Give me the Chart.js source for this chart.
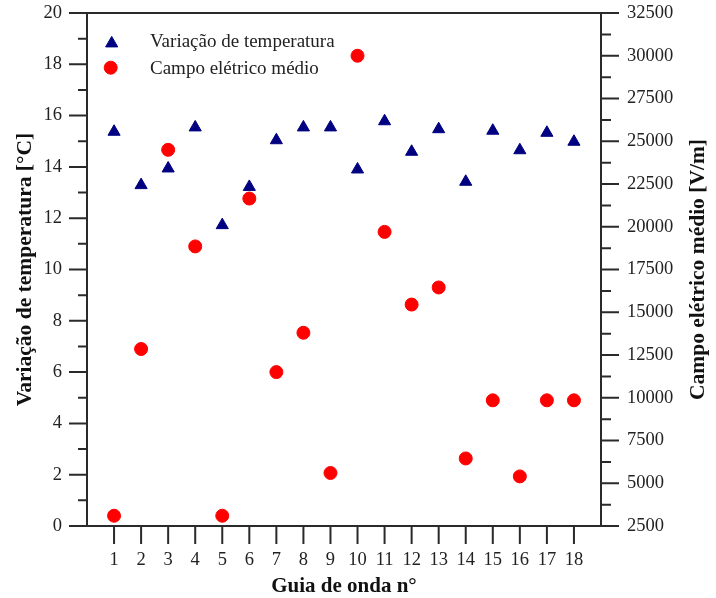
<!DOCTYPE html>
<html>
<head>
<meta charset="utf-8">
<script src="https://cdn.jsdelivr.net/npm/chart.js@4.4.0/dist/chart.umd.min.js"></script>
<style>
  body { margin: 0; background: #fff; }
  canvas { display: block; }
</style>
</head>
<body>
<canvas id="myChart" width="716" height="598"></canvas>
<script>
// dados
const guias = [1, 2, 3, 4, 5, 6, 7, 8, 9, 10, 11, 12, 13, 14, 15, 16, 17, 18];
const temperatura = [15.37, 13.29, 13.94, 15.54, 11.73, 13.22, 15.04, 15.54, 15.54,
  13.90, 15.78, 14.59, 15.47, 13.42, 15.41, 14.65, 15.33, 14.98];
const campo = [3100, 12850, 24500, 18850, 3100, 21650, 11500, 13800, 5600,
  30000, 19700, 15450, 16450, 6450, 9850, 5400, 9850, 9850];

const labelTemp = "Variação de temperatura";
const labelCampo = "Campo elétrico médio";
const tituloX = "Guia de onda n°";
const tituloY = "Variação de temperatura [°C]";
const tituloY1 = "Campo elétrico médio [V/m]";

const corTri = "#000080";
const corCirc = "#ff0000";
const corEixo = "#2a2a2a";
const fonte = "'Liberation Serif', 'Times New Roman', serif";

// eixos, ticks, titulos e legenda desenhados a mao
const moldura = {
  id: "moldura",
  afterDraw(chart) {
    const ctx = chart.ctx;
    const a = chart.chartArea;
    const y = chart.scales.y, y1 = chart.scales.y1, x = chart.scales.x;
    ctx.save();
    ctx.strokeStyle = corEixo;
    ctx.lineWidth = 2;
    ctx.strokeRect(a.left, a.top, a.right - a.left, a.bottom - a.top);
    ctx.beginPath();
    for (let v = 0; v <= 20; v++) {
      const p = y.getPixelForValue(v);
      const len = v % 2 == 0 ? 18 : 9;
      ctx.moveTo(a.left - len, p);
      ctx.lineTo(a.left, p);
    }
    for (let v = 2500; v <= 32500; v += 1250) {
      const p = y1.getPixelForValue(v);
      const len = (v - 2500) % 2500 == 0 ? 18 : 10;
      ctx.moveTo(a.right, p);
      ctx.lineTo(a.right + len, p);
    }
    for (let i = 0; i < guias.length; i++) {
      const p = x.getPixelForValue(guias[i]);
      ctx.moveTo(p, a.bottom);
      ctx.lineTo(p, a.bottom + 18);
    }
    ctx.stroke();

    // titulos
    ctx.fillStyle = "#111";
    ctx.font = "bold 21.5px " + fonte;
    ctx.textAlign = "center";
    ctx.textBaseline = "middle";
    const cy = (a.top + a.bottom) / 2;
    ctx.save();
    ctx.translate(25, cy);
    ctx.rotate(-Math.PI / 2);
    ctx.fillText(tituloY, 0, 0);
    ctx.restore();
    ctx.save();
    ctx.translate(698, cy);
    ctx.rotate(-Math.PI / 2);
    ctx.fillText(tituloY1, 0, 0);
    ctx.restore();
    ctx.font = "bold 21px " + fonte;
    ctx.textBaseline = "alphabetic";
    ctx.fillText(tituloX, (a.left + a.right) / 2, 592);

    // legenda
    ctx.lineWidth = 1;
    ctx.fillStyle = corTri;
    ctx.strokeStyle = corTri;
    Chart.helpers.drawPoint(ctx, { pointStyle: "triangle", radius: 7, borderWidth: 1 }, 111.7, 43.4);
    ctx.fillStyle = corCirc;
    ctx.strokeStyle = corCirc;
    Chart.helpers.drawPoint(ctx, { pointStyle: "circle", radius: 6.5, borderWidth: 1 }, 110.7, 67.7);
    ctx.fillStyle = "#222";
    ctx.font = "19px " + fonte;
    ctx.textAlign = "left";
    ctx.fillText(labelTemp, 150, 47);
    ctx.fillText(labelCampo, 150, 74);
    ctx.restore();
  }
};

function semPadding(s) {
  s.paddingTop = 0;
  s.paddingBottom = 0;
  s.paddingLeft = 0;
  s.paddingRight = 0;
}

const ctx = document.getElementById("myChart").getContext("2d");
const myChart = new Chart(ctx, {
  type: "scatter",
  data: {
    datasets: [{
      label: labelTemp,
      data: guias.map((g, i) => ({ x: g, y: temperatura[i] })),
      yAxisID: "y",
      pointStyle: "triangle",
      pointRadius: 7,
      backgroundColor: corTri,
      borderColor: corTri,
      borderWidth: 1
    }, {
      label: labelCampo,
      data: guias.map((g, i) => ({ x: g, y: campo[i] })),
      yAxisID: "y1",
      pointStyle: "circle",
      pointRadius: 6.5,
      backgroundColor: corCirc,
      borderColor: corCirc,
      borderWidth: 1
    }]
  },
  options: {
    responsive: false,
    animation: false,
    layout: { padding: { top: 13, left: 0, right: 0, bottom: 0 } },
    plugins: {
      legend: { display: false },
      tooltip: { enabled: false }
    },
    scales: {
      x: {
        type: "linear",
        min: 0,
        max: 19,
        grid: { display: false, drawTicks: false },
        border: { display: false },
        ticks: {
          stepSize: 1,
          padding: 23,
          color: "#222",
          font: { family: fonte, size: 18.5 },
          maxRotation: 0,
          autoSkip: false,
          callback: v => (v >= 1 && v <= 18 ? String(v) : "")
        },
        afterFit: s => { s.height = 72; semPadding(s); }
      },
      y: {
        position: "left",
        min: 0,
        max: 20,
        grid: { display: false, drawTicks: false },
        border: { display: false },
        ticks: { stepSize: 2, padding: 25, color: "#222", font: { family: fonte, size: 18.5 } },
        afterFit: s => { s.width = 87; semPadding(s); }
      },
      y1: {
        position: "right",
        min: 2500,
        max: 32500,
        grid: { display: false, drawTicks: false },
        border: { display: false },
        ticks: {
          stepSize: 2500,
          padding: 26,
          color: "#222",
          font: { family: fonte, size: 18.5 },
          callback: v => String(v)
        },
        afterFit: s => { s.width = 115; semPadding(s); }
      }
    }
  },
  plugins: [moldura]
});
</script>
</body>
</html>
